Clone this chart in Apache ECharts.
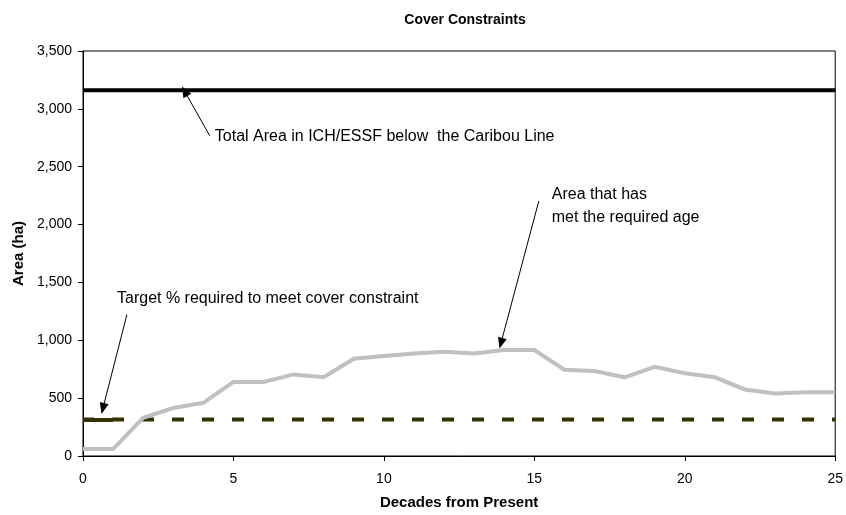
<!DOCTYPE html>
<html>
<head>
<meta charset="utf-8">
<script src="https://cdn.jsdelivr.net/npm/echarts@6/dist/echarts.min.js"></script>
<style>
  html, body { margin: 0; padding: 0; background: #fff; }
  #chart { width: 846px; height: 515px; }
</style>
</head>
<body>
<div id="chart"></div>
<script>
// Decades from present (x values)
const decades = [0, 1, 2, 3, 4, 5, 6, 7, 8, 9, 10, 11, 12, 13, 14, 15, 16, 17, 18, 19, 20, 21, 22, 23, 24, 25];
// Area that has met the required age (ha)
const agedArea = [60, 60, 330, 415, 460, 640, 640, 705, 680, 840, 865, 885, 900, 885, 915, 915, 745, 735, 680, 770, 715, 680, 575, 540, 550, 550];
// Total area in ICH/ESSF below the Caribou Line (ha)
const totalArea = decades.map(() => 3160);
// Target area required to meet the cover constraint (ha)
const targetArea = decades.map(() => 315);
// Y axis tick values
const yTicks = [0, 500, 1000, 1500, 2000, 2500, 3000, 3500];

// Callout texts and arrows, in data coordinates [decade, ha]
const callouts = [
  { text: 'Total Area in ICH/ESSF below  the Caribou Line', at: [4.38, 2759], from: [4.21, 2768], to: [3.38, 3152] },
  { text: 'Area that has\nmet the required age', at: [15.58, 2160], from: [15.15, 2204], to: [13.89, 974] },
  { text: 'Target % required to meet cover constraint', at: [1.13, 1358], from: [1.46, 1222], to: [0.66, 410] }
];

const FONT = '"Liberation Sans", Arial, sans-serif';
const pairs = (ys) => decades.map((d, i) => [d, ys[i]]);

const chart = echarts.init(document.getElementById('chart'), null, { renderer: 'canvas' });

chart.setOption({
  animation: false,
  backgroundColor: '#ffffff',
  title: {
    text: 'Cover Constraints',
    left: 460,
    top: 8,
    textAlign: 'center',
    textStyle: { fontFamily: FONT, fontSize: 14, fontWeight: 'bold', color: '#000' }
  },
  grid: {
    left: 83, right: 9, top: 51, bottom: 54,
    show: true, borderColor: '#000', borderWidth: 1, backgroundColor: 'transparent'
  },
  xAxis: {
    type: 'value',
    min: 0, max: 25, interval: 5,
    name: 'Decades from Present',
    nameLocation: 'middle',
    nameGap: 39,
    nameTextStyle: { fontFamily: FONT, fontSize: 15, fontWeight: 'bold', color: '#000' },
    axisLine: { lineStyle: { color: '#000', width: 1 } },
    axisTick: { show: true, length: 5, lineStyle: { color: '#000' } },
    axisLabel: { fontFamily: FONT, fontSize: 14, color: '#000', margin: 16 },
    splitLine: { show: false }
  },
  yAxis: {
    type: 'value',
    min: yTicks[0], max: yTicks[yTicks.length - 1], interval: 500,
    name: 'Area (ha)',
    nameLocation: 'middle',
    nameGap: 57,
    nameTextStyle: { fontFamily: FONT, fontSize: 15, fontWeight: 'bold', color: '#000' },
    axisLine: { show: true, lineStyle: { color: '#000', width: 1 } },
    axisTick: { show: true, length: 5, lineStyle: { color: '#000' } },
    axisLabel: {
      fontFamily: FONT, fontSize: 14, color: '#000', margin: 11,
      formatter: (v) => v.toLocaleString('en-US')
    },
    splitLine: { show: false }
  },
  series: [
    {
      name: 'Target',
      type: 'line',
      data: pairs(targetArea),
      symbol: 'none',
      z: 2,
      lineStyle: { color: '#333300', width: 4, type: [12, 18], dashOffset: 1, cap: 'butt' },
      markLine: {
        silent: true,
        symbol: 'none',
        label: { show: false },
        lineStyle: { color: '#333300', width: 4, type: 'solid', cap: 'butt' },
        data: [[{ coord: [decades[0], targetArea[0]] }, { coord: [decades[1], targetArea[1]] }]]
      }
    },
    {
      name: 'Aged area',
      type: 'line',
      data: pairs(agedArea),
      symbol: 'none',
      z: 3,
      lineStyle: { color: '#c0c0c0', width: 4, join: 'miter' }
    },
    {
      name: 'Total area',
      type: 'line',
      data: pairs(totalArea),
      symbol: 'none',
      z: 4,
      lineStyle: { color: '#000000', width: 4 },
      markLine: {
        silent: true,
        symbol: ['none', 'triangle'],
        symbolSize: [9, 11],
        label: { show: false },
        lineStyle: { color: '#000', width: 1, type: 'solid' },
        data: callouts.map(c => [{ coord: c.from }, { coord: c.to }])
      },
      markPoint: {
        silent: true,
        symbol: 'circle',
        symbolSize: 0,
        data: callouts.map(c => ({
          coord: c.at,
          label: {
            show: true,
            position: 'right',
            distance: 0,
            formatter: c.text,
            fontFamily: FONT,
            fontSize: 16,
            lineHeight: 23,
            color: '#000'
          }
        }))
      }
    }
  ]
});
</script>
</body>
</html>
